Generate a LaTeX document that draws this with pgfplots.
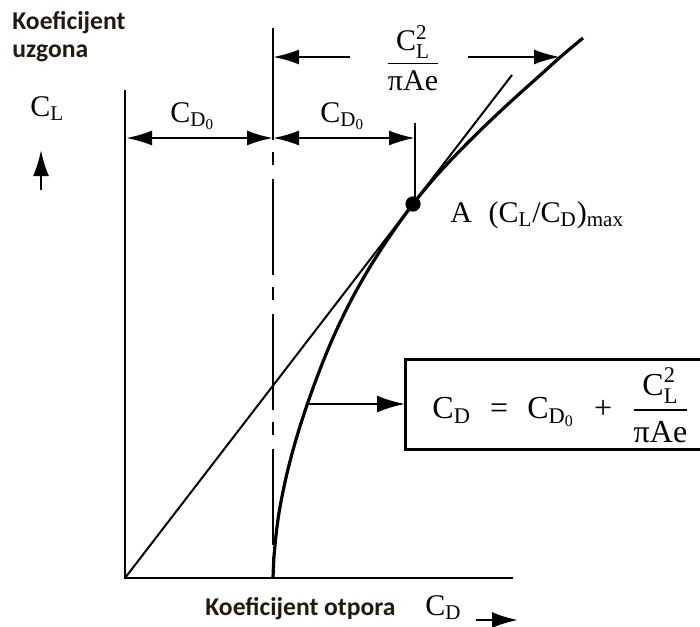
\documentclass[border=0pt]{standalone}
\usepackage{amsmath}
\usepackage{fontspec}
\setmainfont{Liberation Serif}
\newfontfamily\labelfont{Carlito}
\usepackage{pgfplots}
\pgfplotsset{compat=1.18}
\usetikzlibrary{arrows.meta}
\definecolor{labeltxt}{HTML}{221A10}

% pixel grid of the reference, 1 px = 0.5 pt
\newcommand{\sz}{\fontsize{15}{17}\selectfont}
\newcommand{\CDo}{C$_{\text{D}_{\text{0}}}$}

\begin{document}
\begin{tikzpicture}
\useasboundingbox (0,0) rectangle (350pt,313pt);
\begin{axis}[
  at={(0,0)}, anchor=south west,
  scale only axis, width=350pt, height=313pt,
  xmin=0, xmax=700, ymin=0, ymax=626, y dir=reverse,
  hide axis, clip=false,
]
% axes
\addplot[black, line width=1.2pt] coordinates {(125,90)(125,578)(513,578)};
% C_D0 line (dash-dot)
\addplot[black, line width=1.3pt] coordinates {(273,28)(273,140)};
\addplot[black, line width=1.3pt, dash pattern=on 6.5pt off 7pt on 48pt off 6pt]
  coordinates {(273,152)(273,578)};
% tangent through origin
\addplot[black, line width=1pt] coordinates {(125,578)(512,75)};
% drag polar
\addplot[black, line width=1.6pt, smooth] coordinates {
  (273,578)(273.9,558)(275.7,538)(278.2,518)(281.3,500)(286.6,475)
  (293,450)(299.8,427)(307.7,403)(316.7,378)(326.5,353)(336.5,330)
  (347.6,307)(358.3,287)(369.9,267)(381.3,249)(392.7,232)(403.3,217)
  (413,204)(424.2,190)(436.2,176)(450,161)(465.5,145)(482.7,128)
  (500.6,111)(520.2,93)(540.4,75)(561.5,56)(583,38)};
% point A
\addplot[black, only marks, mark=*, mark size=3.6pt] coordinates {(413,204)};
% vertical mark at A
\addplot[black, line width=1.2pt] coordinates {(415,123)(415,204)};
% C_D0 dimension arrows
\addplot[black, line width=1.2pt, {Latex[length=13pt,width=7.5pt]}-{Latex[length=13pt,width=7.5pt]}]
  coordinates {(126,138)(273,138)};
\addplot[black, line width=1.2pt, {Latex[length=13pt,width=7.5pt]}-{Latex[length=13pt,width=7.5pt]}]
  coordinates {(273,138)(415,138)};
% C_L^2/(pi A e) arrows
\addplot[black, line width=1.2pt, {Latex[length=13pt,width=7.5pt]}-]
  coordinates {(273,57)(350,57)};
\addplot[black, line width=1.2pt, -{Latex[length=13pt,width=7.5pt]}]
  coordinates {(468,57)(560,57)};
% arrow to formula box
\addplot[black, line width=1.2pt, -{Latex[length=14pt,width=8.5pt]}]
  coordinates {(308,404)(405,404)};
% formula box
\addplot[black, line width=1.5pt] coordinates {(710,359)(405,359)(405,449)(710,449)};
% axis arrows
\addplot[black, line width=1.2pt, -{Latex[length=13pt,width=8pt]}]
  coordinates {(41,190)(41,150)};
\addplot[black, line width=1.2pt, -{Latex[length=13pt,width=8pt]}]
  coordinates {(476,620)(518,620)};

% texts
\node[anchor=base west, inner sep=0, text=labeltxt,
  font=\labelfont\bfseries\fontsize{12.8}{14}\selectfont] at (axis cs:12,30) {Koeficijent};
\node[anchor=base west, inner sep=0, text=labeltxt,
  font=\labelfont\bfseries\fontsize{12.8}{14}\selectfont] at (axis cs:12,58) {uzgona};
\node[anchor=base west, inner sep=0, text=labeltxt,
  font=\labelfont\bfseries\fontsize{12.8}{14}\selectfont] at (axis cs:205,615) {Koeficijent otpora};
\node[anchor=base west, inner sep=0, font=\sz] at (axis cs:30,116) {C$_{\text{L}}$};
\node[anchor=base west, inner sep=0, font=\sz] at (axis cs:425,615) {C$_{\text{D}}$};
\node[anchor=base west, inner sep=0, font=\sz] at (axis cs:170,122) {\CDo};
\node[anchor=base west, inner sep=0, font=\sz] at (axis cs:320,122) {\CDo};
\node[inner sep=0, font=\sz] at (axis cs:413,58)
  {$\dfrac{\text{C}_{\text{L}}^{\text{2}}}{\text{πAe}}$};
\node[anchor=base west, inner sep=0, font=\sz] at (axis cs:450,222)
  {A\hspace{0.55em}(C$_{\text{L}}$/C$_{\text{D}}$)$_{\text{max}}$};
\node[anchor=west, inner sep=0, font=\fontsize{16}{18}\selectfont] at (axis cs:432,405)
  {C$_{\text{D}}$\hspace{0.6em}=\hspace{0.6em}\CDo\hspace{0.6em}+\hspace{0.6em}%
   $\dfrac{\text{C}_{\text{L}}^{\text{2}}}{\text{πAe}}$};
\end{axis}
\end{tikzpicture}
\end{document}
